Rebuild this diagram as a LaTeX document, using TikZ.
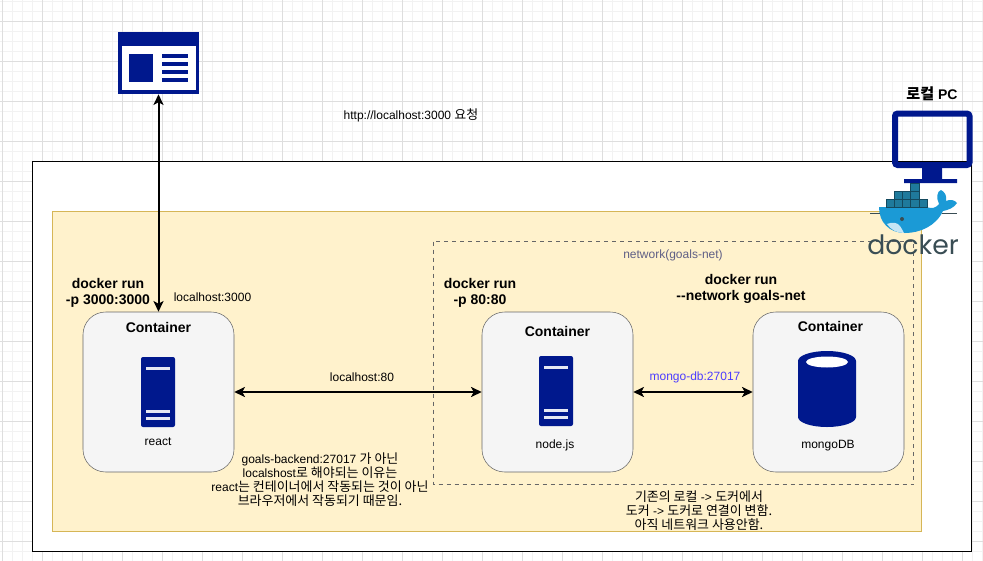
\documentclass[tikz,border=0pt]{standalone}
\usepackage{fontspec}
\usepackage{xcolor}
\setmainfont{Liberation Sans}
\newfontfamily\cjk[Scale=1.08]{Noto Sans CJK KR}
\newfontfamily\logofont{Poppins}
\newcommand{\kr}[1]{{\cjk #1}}
\usetikzlibrary{shapes,arrows.meta,positioning}
\definecolor{iconblue}{HTML}{00188D}
\definecolor{hostyellow}{HTML}{FFF2CC}
\definecolor{hostline}{HTML}{D6B656}
\definecolor{boxgray}{HTML}{F5F5F5}
\definecolor{boxline}{HTML}{666666}
\definecolor{netlabel}{HTML}{5F5F85}
\definecolor{mongolabel}{HTML}{4C3CFF}
\definecolor{whaleblue}{HTML}{1B9AD6}
\definecolor{cargoblue}{HTML}{1F7A9C}
\definecolor{logoslate}{HTML}{394D54}
\tikzset{
  label9/.style={font=\fontsize{9}{10.5}\selectfont,align=center,inner sep=0pt},
  title10/.style={font=\fontsize{10.5}{12}\selectfont\bfseries,align=center,inner sep=0pt},
  containerbox/.style={draw=boxline,fill=boxgray,rounded corners=17pt,minimum width=113.25pt,minimum height=120pt,inner sep=0pt},
  link/.style={{Stealth[length=8pt,width=7.5pt,inset=2pt]}-{Stealth[length=8pt,width=7.5pt,inset=2pt]},line width=1.5pt}
}
% one server icon, centred on x, top edge at y
\newcommand{\servericon}[2]{
  \fill[iconblue,rounded corners=1.5pt] (#1-17,#2) -- (#1+17,#2) -- (#1+17,#2+70) -- (#1-17,#2+70) -- cycle;
  \fill[white!90!iconblue] (#1-12,#2+10) rectangle (#1+12,#2+13);
  \fill[white!90!iconblue] (#1-12,#2+53) rectangle (#1+12,#2+56);
  \fill[white!90!iconblue] (#1-12,#2+60) rectangle (#1+12,#2+63);
}
\begin{document}
\begin{tikzpicture}[x=0.75pt,y=-0.75pt]
  \useasboundingbox (0,0) rectangle (983,561);
  % Background grid
  \foreach \gridx in {2.5,12.5,...,982.5}
    \draw[color=black!5,line width=0.75pt] (\gridx,0) -- (\gridx,561);
  \foreach \gridy in {1.5,11.5,...,561.5}
    \draw[color=black!5,line width=0.75pt] (0,\gridy) -- (983,\gridy);
  \foreach \gridx in {2.5,42.5,...,982.5}
    \draw[color=black!13,line width=0.75pt] (\gridx,0) -- (\gridx,561);
  \foreach \gridy in {21.5,61.5,...,561.5}
    \draw[color=black!13,line width=0.75pt] (0,\gridy) -- (983,\gridy);

  % Boxes
  \draw[black,fill=white,line width=0.75pt] (32.5,161.5) rectangle (971.5,551.5);
  \draw[hostline,fill=hostyellow,line width=0.75pt] (52.5,211.5) rectangle (921.5,531.5);
  \draw[boxline,dashed,line width=0.75pt] (433.5,241.5) rectangle (913.5,484.5);

  % Containers
  \node[containerbox] (react) at (158.5,392) {};
  \node[containerbox] (nodejs) at (557.5,392) {};
  \node[containerbox] (mongo) at (828.5,392) {};
  \node[title10] (reacttitle) at (158.5,327) {Container};
  \node[title10] (nodetitle) at (557.5,331) {Container};
  \node[title10] (mongotitle) at (830.5,326) {Container};

  % Server icons and database
  \servericon{158}{357}
  \servericon{556}{356}
  \fill[iconblue] (798,361) arc[x radius=29,y radius=10,start angle=180,end angle=360] -- (856,417)
    arc[x radius=29,y radius=10,start angle=0,end angle=180] -- cycle;
  \fill[white] (827,362) ellipse[x radius=21,y radius=5.5];
  \node[label9] (reactlabel) at (158,441.5) {react};
  \node[label9] (nodelabel) at (555,445.5) {node.js};
  \node[label9] (mongolabel) at (828,445.5) {mongoDB};

  % Browser window
  \node[draw=none,inner sep=0pt,minimum width=60.75pt,minimum height=46.5pt] (browser) at (158.5,63) {};
  \fill[iconblue] (118,32) rectangle (199,94);
  \fill[white] (122,46) rectangle (196,90);
  \fill[iconblue] (129,54) rectangle (153,82);
  \foreach \liney in {54,62,70,78}
    \fill[iconblue] (162,\liney) rectangle (188,\liney+4);

  % Monitor
  \node[inner sep=0pt,minimum width=60pt,minimum height=42.75pt] (monitor) at (932,139.5) {};
  \draw[iconblue,line width=4.5pt,rounded corners=2pt] (895,113.5) rectangle (969.5,165);
  \fill[iconblue] (922,167) -- (942,167) -- (942,179) -- (957,179) -- (957,183) -- (904,183) -- (904,179) -- (922,179) -- cycle;
  \node[title10] (pclabel) at (932,94) {\kr{로컬} PC};

  % Docker whale
  \fill[whaleblue] (879,207) -- (926,207) .. controls (932,209) and (936,208) .. (939,204)
    .. controls (936,198) and (937,191) .. (941,190) .. controls (945,192) and (947,196) .. (946,201)
    .. controls (950,199) and (955,200) .. (957,203) .. controls (954,208) and (948,210) .. (943,211)
    .. controls (936,226) and (920,233) .. (905,233) .. controls (889,233) and (879,222) .. (879,207) -- cycle;
  \fill[white!75!whaleblue] (887,224) .. controls (892,222) and (897,222) .. (900,226) .. controls (902,229) and (903,231) .. (904,233)
    .. controls (897,233) and (891,230) .. (887,224) -- cycle;
  \fill[logoslate] (902,219) circle (2);
  \draw[logoslate,line width=0.6pt] (870,213) -- (880,213);
  \draw[logoslate,line width=0.6pt] (942,213) -- (957,213);
  \foreach \boxx in {0,1,2,3,4}
    \draw[cargoblue!60!black,fill=cargoblue,line width=0.4pt] (886+8.2*\boxx,199) rectangle ++(8.2,8);
  \foreach \boxx in {1,2,3}
    \draw[cargoblue!60!black,fill=cargoblue,line width=0.4pt] (886+8.2*\boxx,191) rectangle ++(8.2,8);
  \draw[cargoblue!60!black,fill=cargoblue,line width=0.4pt] (910.6,183) rectangle ++(8.2,8);
  \node[font=\logofont\fontsize{20}{22}\selectfont,color=logoslate,inner sep=0pt] (dockerword) at (913,245) {docker};

  % Arrows
  \draw[link] (browser.south) -- (react.north);
  \draw[link] (react.east) -- (nodejs.west);
  \draw[link] (nodejs.east) -- (mongo.west);

  % Labels
  \node[label9] (requestlabel) at (411,115) {http://localhost:3000 \kr{요청}};
  \node[title10] (reactrun) at (108,293) {docker run\\-p 3000:3000};
  \node[label9] (reactport) at (212.5,297) {localhost:3000};
  \node[title10] (noderun) at (480,293) {docker run\\-p 80:80};
  \node[title10] (mongorun) at (741,289) {docker run\\-{}-network goals-net};
  \node[label9,color=netlabel] (netlabel) at (673,255) {network(goals-net)};
  \node[label9] (nodeport) at (362,377) {localhost:80};
  \node[label9,color=mongolabel] (mongoport) at (695,377) {mongo-db:27017};
  \node[label9] (reactnote) at (320,480) {goals-backend:27017 \kr{가 아닌}\\localshost\kr{로 해야되는 이유는}\\react\kr{는 컨테이너에서 작동되는 것이 아닌}\\\kr{브라우저에서 작동되기 때문임.}};
  \node[label9] (mongonote) at (699,511) {\kr{기존의 로컬} -> \kr{도커에서}\\\kr{도커} -> \kr{도커로 연결이 변함.}\\\kr{아직 네트워크 사용안함.}};
\end{tikzpicture}
\end{document}
